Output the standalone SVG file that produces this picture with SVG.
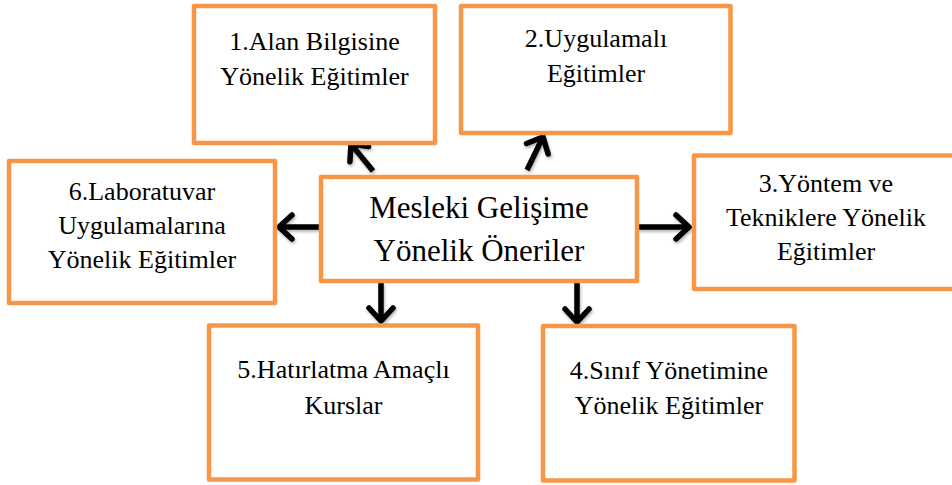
<svg xmlns="http://www.w3.org/2000/svg" width="952" height="485" viewBox="0 0 952 485">
  <style>
    .box { fill: #ffffff; stroke: #f79646; stroke-width: 4.5; stroke-linejoin: round; }
    .lbl { font-family: "Liberation Serif", "Times New Roman", serif; font-size: 26px; fill: #000000; text-anchor: middle; }
    .main { font-size: 31px; }
    .arrow { fill: none; stroke: #000000; stroke-width: 5.5; marker-end: url(#head); }
  </style>
  <defs>
    <marker id="head" markerUnits="userSpaceOnUse" markerWidth="40" markerHeight="40" viewBox="-20 -20 40 40" refX="0" refY="0" orient="auto" overflow="visible">
      <path d="M -13 -12 L 0 0 L -13 12" fill="none" stroke="#000000" stroke-width="5.5" stroke-linecap="round" stroke-linejoin="miter"/>
    </marker>
    <filter id="shadow" x="-20%" y="-20%" width="140%" height="140%">
      <feDropShadow dx="1" dy="2" stdDeviation="1.5" flood-color="#000000" flood-opacity="0.3"/>
    </filter>
  </defs>

  <rect width="952" height="485" fill="#ffffff"/>

  <!-- arrows from the central box out to each training type -->
  <g id="connectors" filter="url(#shadow)">
    <path class="arrow" d="M 373 171 L 351 144"/>
    <path class="arrow" d="M 527 170 L 543 137"/>
    <path class="arrow" d="M 320 227 L 279 227"/>
    <path class="arrow" d="M 636 227 L 689 227"/>
    <path class="arrow" d="M 381 283 L 381 321"/>
    <path class="arrow" d="M 577 283 L 577 322"/>
  </g>

  <g id="center">
    <rect class="box" x="321" y="177" width="316" height="104"/>
    <text class="lbl main" x="479" y="218">Mesleki Gelişime</text>
    <text class="lbl main" x="479" y="261">Yönelik Öneriler</text>
  </g>

  <g id="node1">
    <rect class="box" x="194" y="6" width="241" height="137"/>
    <text class="lbl" x="314.5" y="50">1.Alan Bilgisine</text>
    <text class="lbl" x="314.5" y="85">Yönelik Eğitimler</text>
  </g>

  <g id="node2">
    <rect class="box" x="461" y="6" width="269.5" height="127"/>
    <text class="lbl" x="596" y="47">2.Uygulamalı</text>
    <text class="lbl" x="596" y="82">Eğitimler</text>
  </g>

  <g id="node3">
    <rect class="box" x="694" y="155.5" width="266" height="133.5"/>
    <text class="lbl" x="826" y="192">3.Yöntem ve</text>
    <text class="lbl" x="826" y="226">Tekniklere Yönelik</text>
    <text class="lbl" x="826" y="260">Eğitimler</text>
  </g>

  <g id="node4">
    <rect class="box" x="543" y="326" width="251.5" height="154.5"/>
    <text class="lbl" x="669" y="379">4.Sınıf Yönetimine</text>
    <text class="lbl" x="669" y="414">Yönelik Eğitimler</text>
  </g>

  <g id="node5">
    <rect class="box" x="209" y="325.5" width="269" height="154"/>
    <text class="lbl" x="343.5" y="378">5.Hatırlatma Amaçlı</text>
    <text class="lbl" x="343.5" y="414">Kurslar</text>
  </g>

  <g id="node6">
    <rect class="box" x="9" y="161" width="266" height="142"/>
    <text class="lbl" x="142" y="200">6.Laboratuvar</text>
    <text class="lbl" x="142" y="234">Uygulamalarına</text>
    <text class="lbl" x="142" y="268">Yönelik Eğitimler</text>
  </g>
</svg>
